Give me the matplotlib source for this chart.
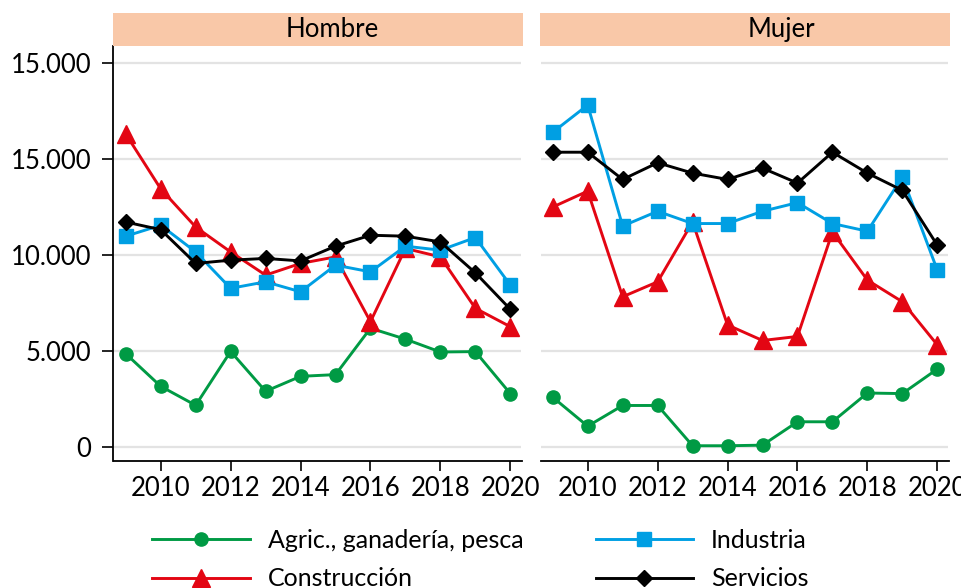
import matplotlib
matplotlib.use("Agg")
import matplotlib.pyplot as plt
from matplotlib.lines import Line2D

plt.rcParams['font.family'] = ['Lato', 'DejaVu Sans']

years = list(range(2009, 2021))
panels = ["Hombre", "Mujer"]
series_names = ["Agric., ganadería, pesca", "Construcción", "Industria", "Servicios"]

hombre_agric = [4850, 3150, 2160, 4970, 2890, 3670, 3760, 6180, 5610, 4940, 4960, 2770]
hombre_constr = [16310, 13450, 11460, 10160, 8950, 9560, 9900, 6520, 10340, 9900, 7220, 6260]
hombre_ind = [10980, 11550, 10160, 8260, 8600, 8080, 9470, 9120, 10460, 10250, 10910, 8430]
hombre_serv = [11720, 11320, 9560, 9730, 9820, 9690, 10460, 11030, 10980, 10680, 9070, 7170]

mujer_agric = [2580, 1070, 2150, 2150, 50, 50, 80, 1300, 1300, 2800, 2770, 4050]
mujer_constr = [12500, 13330, 7820, 8600, 11720, 6350, 5540, 5750, 11200, 8690, 7560, 5310]
mujer_ind = [16400, 17820, 11510, 12280, 11640, 11640, 12280, 12730, 11640, 11240, 14060, 9210]
mujer_serv = [15360, 15360, 13940, 14810, 14270, 13940, 14530, 13750, 15360, 14270, 13370, 10510]

yticks = [0, 5000, 10000, 15000, 20000]
ytick_labels = ["0", "5.000", "10.000", "15.000", "15.000"]
xticks = [2010, 2012, 2014, 2016, 2018, 2020]

data = {
    "Hombre": [hombre_agric, hombre_constr, hombre_ind, hombre_serv],
    "Mujer": [mujer_agric, mujer_constr, mujer_ind, mujer_serv],
}

colors = ["#009A44", "#E30613", "#009FE3", "#000000"]
markers = ["o", "^", "s", "D"]
msizes = [9.5, 13, 10, 8.5]
strip_color = "#F9C8A8"

W, H = 962, 588
fig = plt.figure(figsize=(W / 100, H / 100), dpi=100)

def fx(px):
    return px / W

def fy(py):
    return 1 - py / H

ax_top, ax_bot = 46, 460.7
lefts = [113.5, 540.5]
width = 408
title_x = [332.5, 781]
fs = 18.5
lfs = 18

for i, name in enumerate(panels):
    ax = fig.add_axes([fx(lefts[i]), fy(ax_bot), fx(width), (ax_bot - ax_top) / H])
    for j, vals in enumerate(data[name]):
        ax.plot(years, vals, color=colors[j], marker=markers[j], markersize=msizes[j],
                linewidth=2.1, zorder=3 + j, clip_on=False)
    ax.set_xlim(2008.65, 2020.32)
    ax.set_ylim(-730, 20900)
    ax.set_yticks(yticks)
    ax.grid(axis='y', color='#E3E3E3', linewidth=1.6, zorder=0)
    ax.set_axisbelow(True)
    ax.set_xticks(xticks)
    ax.set_xticklabels([str(t) for t in xticks], fontsize=fs)
    ax.tick_params(axis='x', length=7, width=1.2, pad=4, color='black')
    for s in ['top', 'right']:
        ax.spines[s].set_visible(False)
    ax.spines['bottom'].set_linewidth(1.3)
    if i == 0:
        ax.set_yticklabels(ytick_labels, fontsize=fs)
        ax.tick_params(axis='y', length=8, width=1.2, pad=8)
        ax.spines['left'].set_linewidth(1.3)
    else:
        ax.spines['left'].set_visible(False)
        ax.tick_params(axis='y', length=0, labelleft=False)
    # strip
    sx = fig.add_axes([fx(lefts[i] - 1), fy(45.7), fx(width + 2), (45.7 - 13.3) / H])
    sx.set_facecolor(strip_color)
    sx.set_xticks([])
    sx.set_yticks([])
    for s in sx.spines.values():
        s.set_visible(False)
    fig.text(fx(title_x[i]), fy(29.5), name, ha='center', va='center', fontsize=fs)

handles = [Line2D([0], [0], color=colors[j], marker=markers[j], markersize=msizes[j],
                  linewidth=2.1) for j in range(4)]
fig.legend(handles, series_names, loc='upper left', bbox_to_anchor=(fx(152), fy(529)),
           ncols=2, frameon=False, fontsize=lfs, handlelength=3.9, handletextpad=0.72,
           columnspacing=2.9, labelspacing=0.62, borderpad=0, borderaxespad=0)

fig.savefig("out.png", dpi=100)
